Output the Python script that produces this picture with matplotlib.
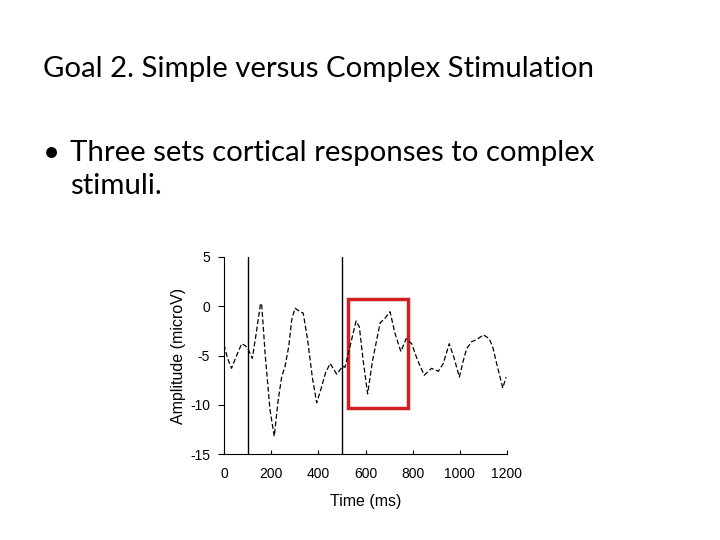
import matplotlib
matplotlib.use("Agg")
import matplotlib.pyplot as plt
from matplotlib.patches import Rectangle

# evoked response (ms, microV)
time_ms = [0, 15, 32, 50, 75, 90, 103, 120, 135, 155, 160, 175, 195, 213, 230, 245,
           259, 275, 287, 301, 322, 336, 355, 375, 393, 410, 430, 450, 478, 503, 513,
           535, 560, 574, 590, 609, 630, 662, 683, 704, 725, 750, 772, 796, 821, 849,
           880, 909, 930, 955, 975, 998, 1015, 1029, 1050, 1071, 1100, 1125, 1140,
           1156, 1182, 1196]
amp_uv = [-3.9, -5.3, -6.3, -5.2, -3.8, -4.0, -4.4, -5.3, -3.0, 0.3, 0.1, -5.0, -10.5,
          -13.2, -9.5, -7.1, -6.1, -4.0, -1.4, -0.2, -0.55, -0.7, -3.5, -7.3, -9.8,
          -8.5, -6.8, -5.8, -6.9, -6.1, -6.2, -4.0, -1.5, -2.1, -5.5, -8.9, -5.5,
          -1.7, -1.2, -0.55, -2.75, -4.6, -3.3, -3.8, -5.5, -7.0, -6.3, -6.6, -5.8,
          -3.8, -5.2, -7.2, -5.5, -4.3, -3.6, -3.4, -2.9, -3.3, -4.2, -5.8, -8.3,
          -7.2]
markers_ms = [100, 500]
box_ms = (525, 780)
box_uv = (-10.3, 0.7)

plt.rcParams['font.family'] = ['Liberation Sans', 'DejaVu Sans']
plt.rcParams['axes.unicode_minus'] = False
fig = plt.figure(figsize=(7.2, 5.4), dpi=100)

fs = 21.2
fig.text(43/720, 1 - 69/540, "Goal 2. Simple versus Complex Stimulation",
         family='Lato', fontsize=fs, va='center', ha='left')
fig.text(43/720, 1 - 153/540, "\u2022", family='Lato', fontsize=fs, va='center', ha='left')
fig.text(70/720, 1 - 153/540, "Three sets cortical responses to complex",
         family='Lato', fontsize=fs, va='center', ha='left')
fig.text(70/720, 1 - 186/540, "stimuli.",
         family='Lato', fontsize=fs, va='center', ha='left')

ax = fig.add_axes([224/720, 1 - 454/540, 283/720, 197/540])
ax.plot(time_ms, amp_uv, color='black', lw=0.9, ls=(0, (4, 2)))
for m in markers_ms:
    ax.axvline(m, color='black', lw=1)
ax.add_patch(Rectangle((box_ms[0], box_uv[0]), box_ms[1] - box_ms[0], box_uv[1] - box_uv[0],
                       fill=False, edgecolor='#d02020', lw=2.5, clip_on=False))

ax.set_xlim(0, 1200)
ax.set_ylim(-15, 5)
ax.set_xticks(range(0, 1201, 200))
ax.set_yticks([-15, -10, -5, 0, 5])
ax.spines['top'].set_visible(False)
ax.spines['right'].set_visible(False)
ax.tick_params(axis='x', direction='in', length=3, labelsize=10, pad=9)
ax.tick_params(axis='y', direction='out', length=4, labelsize=10, pad=6)
ax.set_xlabel("Time (ms)", fontsize=11.5, labelpad=10)
ax.set_ylabel("Amplitude (microV)", fontsize=11.5, labelpad=3)

fig.savefig("out.png", dpi=100)
